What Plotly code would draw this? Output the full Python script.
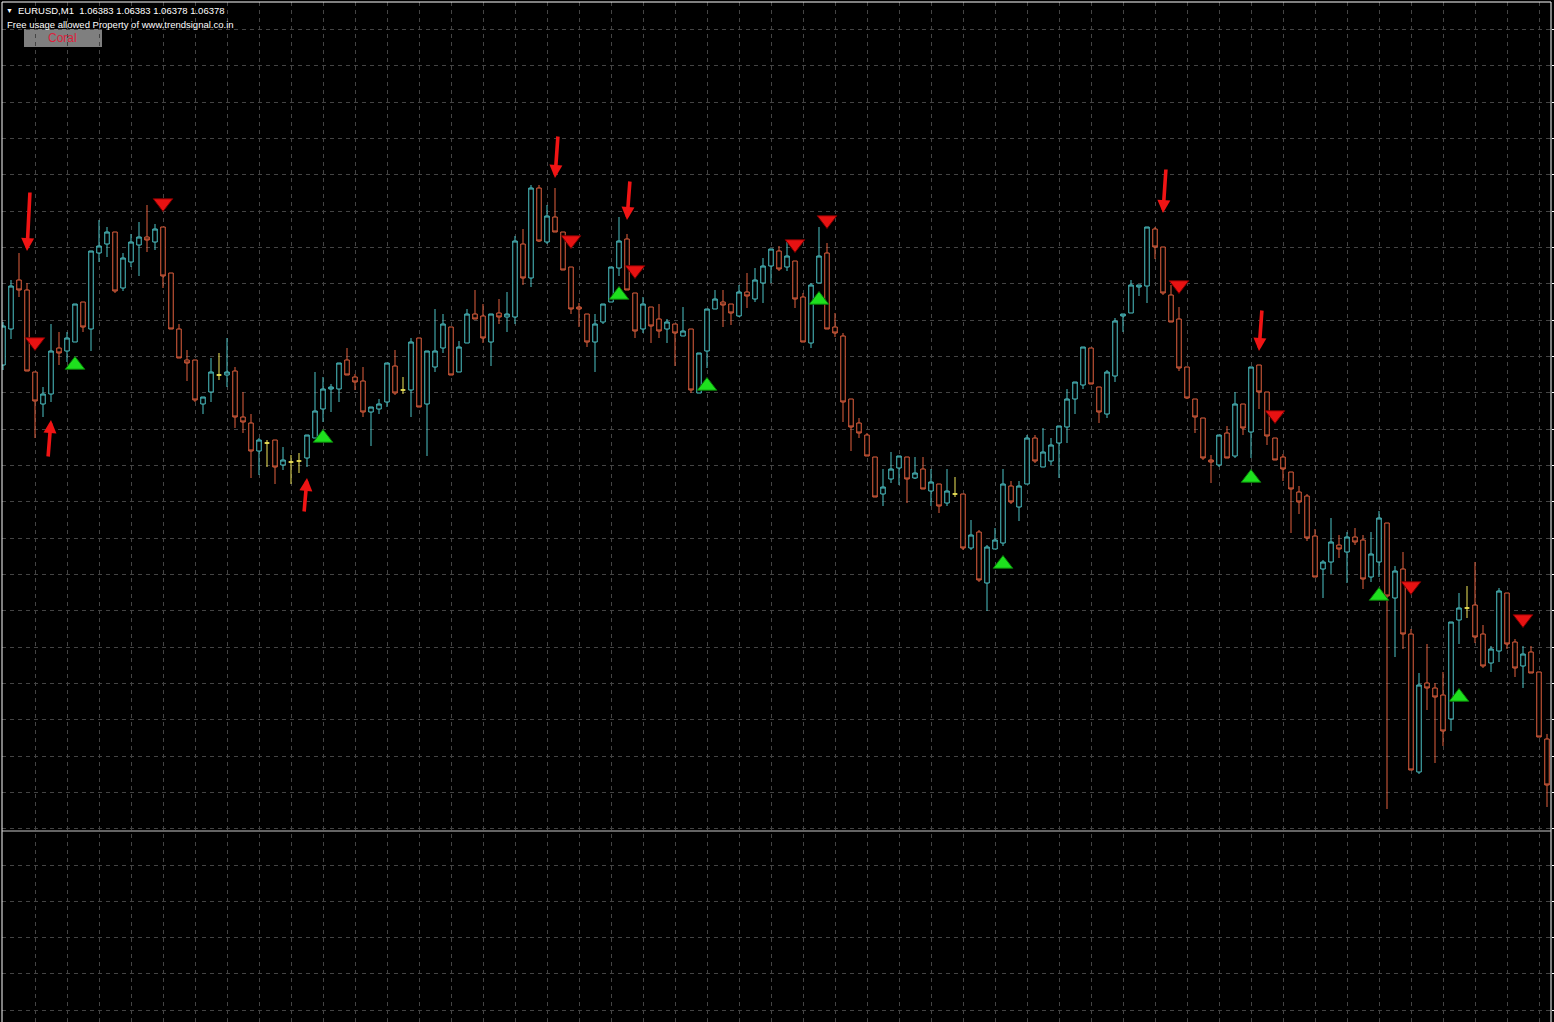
import plotly.graph_objects as go

# ---------------- data: EURUSD M1 candles ----------------
opens = [
    1.06798, 1.06834, 1.06883, 1.06873, 1.06791, 1.06759, 1.06769, 1.06815, 1.06812, 1.06821,
    1.06861, 1.06834, 1.06910, 1.06919, 1.06931, 1.06875, 1.06901, 1.06918, 1.06926, 1.06921,
    1.06936, 1.06890, 1.06834, 1.06803, 1.06803, 1.06759, 1.06771, 1.06788, 1.06788, 1.06792,
    1.06746, 1.06740, 1.06712, 1.06720, 1.06723, 1.06698, 1.06701, 1.06702, 1.06705, 1.06725,
    1.06754, 1.06774, 1.06774, 1.06803, 1.06786, 1.06782, 1.06751, 1.06754, 1.06761, 1.06797,
    1.06773, 1.06773, 1.06825, 1.06759, 1.06796, 1.06815, 1.06836, 1.06791, 1.06820, 1.06849,
    1.06847, 1.06821, 1.06850, 1.06846, 1.06846, 1.06919, 1.06885, 1.06975, 1.06921, 1.06946,
    1.06931, 1.06896, 1.06856, 1.06849, 1.06821, 1.06841, 1.06861, 1.06895, 1.06924, 1.06870,
    1.06834, 1.06856, 1.06844, 1.06834, 1.06839, 1.06827, 1.06834, 1.06770, 1.06812, 1.06854,
    1.06861, 1.06859, 1.06847, 1.06871, 1.06864, 1.06880, 1.06897, 1.06912, 1.06896, 1.06902,
    1.06866, 1.06820, 1.06880, 1.06910, 1.06836, 1.06827, 1.06764, 1.06740, 1.06728, 1.06706,
    1.06669, 1.06684, 1.06695, 1.06706, 1.06685, 1.06694, 1.06672, 1.06679, 1.06660, 1.06669,
    1.06669, 1.06615, 1.06631, 1.06580, 1.06614, 1.06620, 1.06677, 1.06656, 1.06679, 1.06725,
    1.06696, 1.06702, 1.06720, 1.06736, 1.06764, 1.06778, 1.06815, 1.06776, 1.06749, 1.06787,
    1.06847, 1.06850, 1.06876, 1.06877, 1.06934, 1.06916, 1.06868, 1.06844, 1.06796, 1.06764,
    1.06745, 1.06703, 1.06698, 1.06730, 1.06707, 1.06759, 1.06731, 1.06798, 1.06771, 1.06725,
    1.06706, 1.06691, 1.06671, 1.06667, 1.06627, 1.06594, 1.06601, 1.06618, 1.06611, 1.06626,
    1.06623, 1.06586, 1.06601, 1.06640, 1.06565, 1.06594, 1.06529, 1.06391, 1.06480, 1.06475,
    1.06468, 1.06444, 1.06543, 1.06555, 1.06558, 1.06529, 1.06500, 1.06512, 1.06570, 1.06521,
    1.06497, 1.06511, 1.06491, 1.06424,
]
highs = [
    1.06841, 1.06883, 1.06910, 1.06880, 1.06791, 1.06776, 1.06839, 1.06831, 1.06831, 1.06859,
    1.06861, 1.06912, 1.06943, 1.06936, 1.06931, 1.06910, 1.06929, 1.06941, 1.06958, 1.06939,
    1.06936, 1.06890, 1.06839, 1.06813, 1.06803, 1.06766, 1.06805, 1.06810, 1.06825, 1.06796,
    1.06771, 1.06749, 1.06725, 1.06723, 1.06723, 1.06716, 1.06708, 1.06710, 1.06728, 1.06791,
    1.06786, 1.06779, 1.06800, 1.06815, 1.06789, 1.06796, 1.06756, 1.06764, 1.06800, 1.06813,
    1.06786, 1.06825, 1.06825, 1.06812, 1.06854, 1.06849, 1.06836, 1.06822, 1.06854, 1.06873,
    1.06859, 1.06849, 1.06864, 1.06871, 1.06927, 1.06934, 1.06978, 1.06978, 1.06958, 1.06975,
    1.06931, 1.06896, 1.06860, 1.06849, 1.06849, 1.06859, 1.06896, 1.06946, 1.06929, 1.06870,
    1.06866, 1.06856, 1.06859, 1.06844, 1.06839, 1.06856, 1.06834, 1.06810, 1.06854, 1.06873,
    1.06873, 1.06859, 1.06878, 1.06890, 1.06895, 1.06905, 1.06914, 1.06917, 1.06921, 1.06902,
    1.06870, 1.06880, 1.06936, 1.06920, 1.06850, 1.06830, 1.06764, 1.06745, 1.06730, 1.06706,
    1.06694, 1.06711, 1.06707, 1.06706, 1.06706, 1.06706, 1.06694, 1.06679, 1.06694, 1.06686,
    1.06669, 1.06643, 1.06633, 1.06618, 1.06635, 1.06694, 1.06682, 1.06682, 1.06728, 1.06728,
    1.06735, 1.06725, 1.06737, 1.06774, 1.06781, 1.06816, 1.06815, 1.06776, 1.06793, 1.06845,
    1.06849, 1.06883, 1.06878, 1.06936, 1.06936, 1.06916, 1.06878, 1.06856, 1.06796, 1.06764,
    1.06745, 1.06708, 1.06728, 1.06737, 1.06771, 1.06759, 1.06796, 1.06798, 1.06771, 1.06725,
    1.06709, 1.06691, 1.06677, 1.06669, 1.06634, 1.06603, 1.06645, 1.06628, 1.06631, 1.06635,
    1.06628, 1.06631, 1.06652, 1.06640, 1.06597, 1.06611, 1.06534, 1.06490, 1.06519, 1.06480,
    1.06491, 1.06541, 1.06570, 1.06577, 1.06601, 1.06538, 1.06517, 1.06575, 1.06570, 1.06524,
    1.06517, 1.06517, 1.06491, 1.06429,
]
lows = [
    1.06793, 1.06824, 1.06866, 1.06792, 1.06725, 1.06746, 1.06761, 1.06798, 1.06801, 1.06821,
    1.06831, 1.06812, 1.06901, 1.06906, 1.06870, 1.06872, 1.06896, 1.06887, 1.06911, 1.06913,
    1.06875, 1.06834, 1.06805, 1.06782, 1.06761, 1.06749, 1.06761, 1.06783, 1.06776, 1.06735,
    1.06730, 1.06685, 1.06688, 1.06696, 1.06679, 1.06693, 1.06679, 1.06690, 1.06696, 1.06725,
    1.06741, 1.06751, 1.06761, 1.06788, 1.06773, 1.06746, 1.06717, 1.06749, 1.06756, 1.06768,
    1.06769, 1.06746, 1.06756, 1.06707, 1.06791, 1.06810, 1.06788, 1.06791, 1.06820, 1.06844,
    1.06820, 1.06797, 1.06839, 1.06831, 1.06839, 1.06878, 1.06876, 1.06921, 1.06919, 1.06931,
    1.06893, 1.06849, 1.06836, 1.06816, 1.06791, 1.06839, 1.06861, 1.06887, 1.06873, 1.06825,
    1.06830, 1.06820, 1.06825, 1.06820, 1.06797, 1.06827, 1.06770, 1.06770, 1.06795, 1.06854,
    1.06836, 1.06838, 1.06846, 1.06855, 1.06861, 1.06860, 1.06880, 1.06892, 1.06892, 1.06855,
    1.06821, 1.06815, 1.06880, 1.06834, 1.06826, 1.06741, 1.06712, 1.06725, 1.06707, 1.06666,
    1.06657, 1.06680, 1.06678, 1.06660, 1.06684, 1.06674, 1.06657, 1.06650, 1.06657, 1.06666,
    1.06613, 1.06613, 1.06581, 1.06552, 1.06614, 1.06617, 1.06659, 1.06642, 1.06679, 1.06700,
    1.06696, 1.06698, 1.06685, 1.06720, 1.06749, 1.06774, 1.06779, 1.06740, 1.06745, 1.06781,
    1.06831, 1.06850, 1.06867, 1.06860, 1.06904, 1.06868, 1.06841, 1.06792, 1.06764, 1.06730,
    1.06703, 1.06680, 1.06696, 1.06705, 1.06705, 1.06728, 1.06705, 1.06754, 1.06718, 1.06703,
    1.06682, 1.06630, 1.06649, 1.06622, 1.06586, 1.06565, 1.06589, 1.06605, 1.06580, 1.06618,
    1.06574, 1.06581, 1.06586, 1.06354, 1.06506, 1.06514, 1.06393, 1.06389, 1.06453, 1.06400,
    1.06417, 1.06432, 1.06519, 1.06545, 1.06520, 1.06495, 1.06491, 1.06501, 1.06514, 1.06486,
    1.06475, 1.06490, 1.06426, 1.06356,
]
closes = [
    1.06837, 1.06877, 1.06873, 1.06792, 1.06762, 1.06769, 1.06812, 1.06810, 1.06825, 1.06859,
    1.06836, 1.06912, 1.06917, 1.06931, 1.06872, 1.06905, 1.06921, 1.06926, 1.06923, 1.06934,
    1.06887, 1.06834, 1.06805, 1.06800, 1.06763, 1.06766, 1.06791, 1.06788, 1.06791, 1.06746,
    1.06741, 1.06712, 1.06723, 1.06720, 1.06696, 1.06703, 1.06701, 1.06702, 1.06728, 1.06752,
    1.06774, 1.06776, 1.06800, 1.06788, 1.06781, 1.06751, 1.06756, 1.06759, 1.06800, 1.06770,
    1.06773, 1.06821, 1.06756, 1.06812, 1.06812, 1.06839, 1.06788, 1.06816, 1.06849, 1.06844,
    1.06825, 1.06849, 1.06846, 1.06849, 1.06922, 1.06885, 1.06975, 1.06922, 1.06947, 1.06931,
    1.06893, 1.06854, 1.06854, 1.06821, 1.06839, 1.06859, 1.06896, 1.06922, 1.06873, 1.06832,
    1.06859, 1.06837, 1.06832, 1.06841, 1.06830, 1.06832, 1.06773, 1.06810, 1.06854, 1.06864,
    1.06858, 1.06850, 1.06871, 1.06867, 1.06883, 1.06897, 1.06914, 1.06894, 1.06907, 1.06864,
    1.06821, 1.06878, 1.06907, 1.06834, 1.06830, 1.06761, 1.06736, 1.06730, 1.06707, 1.06666,
    1.06676, 1.06694, 1.06707, 1.06684, 1.06690, 1.06674, 1.06681, 1.06657, 1.06672, 1.06669,
    1.06615, 1.06628, 1.06583, 1.06616, 1.06623, 1.06679, 1.06661, 1.06677, 1.06725, 1.06702,
    1.06711, 1.06718, 1.06737, 1.06764, 1.06781, 1.06816, 1.06779, 1.06751, 1.06791, 1.06842,
    1.06849, 1.06878, 1.06878, 1.06936, 1.06916, 1.06870, 1.06841, 1.06795, 1.06765, 1.06746,
    1.06705, 1.06701, 1.06728, 1.06705, 1.06759, 1.06735, 1.06796, 1.06771, 1.06727, 1.06703,
    1.06694, 1.06674, 1.06661, 1.06625, 1.06586, 1.06601, 1.06621, 1.06614, 1.06626, 1.06621,
    1.06584, 1.06609, 1.06645, 1.06567, 1.06592, 1.06529, 1.06393, 1.06478, 1.06475, 1.06466,
    1.06432, 1.06541, 1.06555, 1.06555, 1.06526, 1.06497, 1.06514, 1.06572, 1.06519, 1.06495,
    1.06509, 1.06490, 1.06426, 1.06378,
]

# indicator signals: small arrow-heads (bar index, price)
sell_idx = [4, 20, 71, 79, 99, 103, 147, 159, 176, 190]
sell_px = [1.06821, 1.06960, 1.06923, 1.06893, 1.06919, 1.06943, 1.06878, 1.06748, 1.06577, 1.06544]
buy_idx = [9, 40, 77, 88, 102, 125, 156, 172, 182]
buy_px = [1.06798, 1.06725, 1.06868, 1.06777, 1.06863, 1.06599, 1.06685, 1.06567, 1.06466]

# big thick arrows (bar index, price of arrow tip)
down_idx = [3, 69, 78, 145, 157]
down_px = [1.06912, 1.06985, 1.06943, 1.06950, 1.06812]
up_idx = [6, 38]
up_px = [1.06743, 1.06685]

header_symbol = "EURUSD,M1"
header_ohlc = ["1.06383", "1.06383", "1.06378", "1.06378"]
header_note = "Free usage allowed Property of www.trendsignal.co.in"
button_label = "Coral"

# ---------------- style ----------------
BG = "#000000"
BULL = "#4cc3c6"
BEAR = "#e2613f"
DOJI = "#f2e85a"
GRID = "#444444"
FONT = "Liberation Sans, Arial, sans-serif"

W, H = 1554, 1022
ML, MT, MR, MB = 2, 2, 3, 0
PW, PH = W - ML - MR, H - MT - MB
BAR_PX = 8            # horizontal pixels per bar
PX_PRICE = 1e-5       # price per vertical pixel
Y_TOP = 1.07161
X_LEFT = -1 / BAR_PX
GRID_STEP = 36.33 * PX_PRICE
GRID_BASE = Y_TOP - (501.7 - MT) * PX_PRICE

arrow_len_down = [60, 43, 40, 45, 42]
arrow_len_up = [38, 35]


def px(xp):
    return (xp - ML) / PW


def py(yp):
    return (H - MB - yp) / PH


fig = go.Figure()

bars = list(range(len(opens)))
groups = [
    ([i for i in bars if closes[i] > opens[i]], BULL),
    ([i for i in bars if closes[i] < opens[i]], BEAR),
    ([i for i in bars if closes[i] == opens[i]], DOJI),
]
for idx, col in groups:
    fig.add_trace(go.Candlestick(
        x=idx,
        open=[opens[i] for i in idx],
        high=[highs[i] for i in idx],
        low=[lows[i] for i in idx],
        close=[closes[i] for i in idx],
        increasing=dict(line=dict(color=col, width=1), fillcolor=BG),
        decreasing=dict(line=dict(color=col, width=1), fillcolor=BG),
        whiskerwidth=0,
        hoverinfo="none",
        showlegend=False,
    ))

fig.add_trace(go.Scatter(
    x=sell_idx, y=sell_px, mode="markers", hoverinfo="skip", showlegend=False,
    marker=dict(symbol="triangle-down", size=17, color="#e81212",
                line=dict(color="#780000", width=1)),
))
fig.add_trace(go.Scatter(
    x=buy_idx, y=buy_px, mode="markers", hoverinfo="skip", showlegend=False,
    marker=dict(symbol="triangle-up", size=17, color="#1ee01e",
                line=dict(color="#0a7a0a", width=1)),
))

for i, p, L in zip(down_idx, down_px, arrow_len_down):
    fig.add_annotation(x=i, y=p, ax=3, ay=-L, text="", showarrow=True,
                       arrowhead=2, arrowsize=0.72, arrowwidth=3.6, arrowcolor="#f01414")
for i, p, L in zip(up_idx, up_px, arrow_len_up):
    fig.add_annotation(x=i, y=p, ax=-3, ay=L, text="", showarrow=True,
                       arrowhead=2, arrowsize=0.72, arrowwidth=3.6, arrowcolor="#f01414")

# header texts
fig.add_annotation(xref="paper", yref="paper", x=px(9), y=py(11), text="▼",
                   showarrow=False, xanchor="center", yanchor="middle",
                   font=dict(family=FONT, size=7, color="#ffffff"), borderpad=0, borderwidth=0)
fig.add_annotation(xref="paper", yref="paper", x=px(18), y=py(11),
                   text=header_symbol + "  " + " ".join(header_ohlc),
                   showarrow=False, xanchor="left", yanchor="middle",
                   font=dict(family=FONT, size=9.5, color="#ffffff"), borderpad=0, borderwidth=0)
fig.add_annotation(xref="paper", yref="paper", x=px(7), y=py(24), text=header_note,
                   showarrow=False, xanchor="left", yanchor="middle",
                   font=dict(family=FONT, size=9.5, color="#ffffff"), borderpad=0, borderwidth=0)
fig.add_annotation(xref="paper", yref="paper", x=px(63), y=py(38), text=button_label,
                   showarrow=False, xanchor="center", yanchor="middle",
                   font=dict(family=FONT, size=12, color="#dc1f3c"), borderpad=0, borderwidth=0)

shapes = [
    dict(type="rect", xref="paper", yref="paper", x0=px(24), x1=px(102), y0=py(47), y1=py(29),
         fillcolor="#7f7f7f", line=dict(width=0), layer="below"),
    dict(type="line", xref="paper", yref="paper", x0=0, x1=1, y0=1, y1=1,
         line=dict(color="#ffffff", width=1)),
    dict(type="line", xref="paper", yref="paper", x0=0, x1=0, y0=0, y1=1,
         line=dict(color="#ffffff", width=1)),
    dict(type="line", xref="paper", yref="paper", x0=1, x1=1, y0=0, y1=1,
         line=dict(color="#ffffff", width=1)),
    dict(type="line", xref="paper", yref="paper", x0=0, x1=1, y0=py(831), y1=py(831),
         line=dict(color="#c8c8c8", width=1)),
]

fig.update_layout(
    width=W, height=H,
    margin=dict(l=ML, r=MR, t=MT, b=MB, pad=0),
    paper_bgcolor=BG, plot_bgcolor=BG,
    showlegend=False,
    boxgap=0.3, boxgroupgap=0.2,
    shapes=shapes,
    xaxis=dict(
        range=[X_LEFT, X_LEFT + PW / BAR_PX],
        rangeslider=dict(visible=False),
        showgrid=True, gridcolor=GRID, griddash="4px,4px", gridwidth=1,
        tick0=0, dtick=4, showticklabels=False, ticks="",
        zeroline=False, showline=False, fixedrange=True,
    ),
    yaxis=dict(
        range=[Y_TOP - PH * PX_PRICE, Y_TOP],
        side="right",
        showgrid=True, gridcolor=GRID, griddash="4px,4px", gridwidth=1,
        tick0=GRID_BASE, dtick=GRID_STEP,
        showticklabels=False, ticks="outside", ticklen=3, tickcolor="#ffffff",
        zeroline=False, showline=False, fixedrange=True,
    ),
)

fig.write_html(
    "out.html",
    config={"displayModeBar": False, "staticPlot": True},
    post_script="document.body.style.margin='0px';document.body.style.overflow='hidden';document.body.style.background='#000';",
)
